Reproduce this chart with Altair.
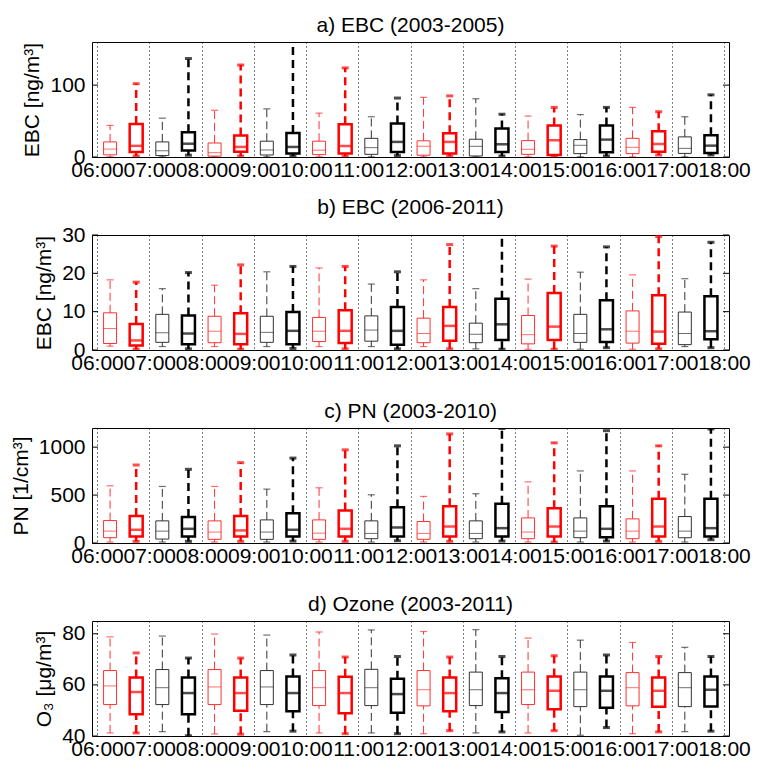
import altair as alt
import pandas as pd

HOURS = ["06:00", "07:00", "08:00", "09:00", "10:00", "11:00", "12:00",
         "13:00", "14:00", "15:00", "16:00", "17:00", "18:00"]

TITLES = ["a) EBC (2003-2005)", "b) EBC (2006-2011)", "c) PN (2003-2010)", "d) Ozone (2003-2011)"]
YTITLES = ["EBC [ng/m³]", "EBC [ng/m³]", "PN [1/cm³]", "O₃ [μg/m³]"]
YDOMAINS = [[0, 160], [0, 30], [0, 1200], [40, 85]]
YTICKS = [[0, 100], [0, 10, 20, 30], [0, 500, 1000], [40, 60, 80]]

# ---- a) EBC 2003-2005 ----
A_THIN_LO = [0.3, 0.2, 0.2, 0.2, 0.2, 0.2, 0.2, 0.2, 0.2, 0.2, 0.2, 0.2]
A_THIN_Q1 = [3, 2, 1.2, 2.8, 3.3, 3.7, 2.5, 1.4, 3.7, 4.7, 4.7, 5]
A_THIN_MED = [11, 8.7, 6, 9.8, 9.5, 13, 15, 14.9, 10.7, 16.3, 13.5, 12]
A_THIN_Q3 = [21, 21, 19.5, 22, 22, 26, 22.5, 24.7, 22.8, 24.2, 26, 28]
A_THIN_HI = [44, 54, 65, 67, 61, 56, 83, 81, 57, 59, 69, 56]
A_THICK_LO = [1.5, 2.5, 1.4, 1.4, 1, 1.9, 1.4, 1.4, 1, 1.4, 2.8, 2.8]
A_THICK_Q1 = [7, 9, 7.4, 5, 4.7, 7, 4.7, 7, 2.8, 6.5, 7.4, 5.6]
A_THICK_MED = [15.5, 18.5, 14, 14, 15.3, 21, 21, 17.7, 23.3, 24.2, 18.1, 15.8]
A_THICK_Q3 = [46, 34.5, 30, 33.5, 45.6, 46.5, 33, 39.5, 43.7, 43.7, 35.8, 30.2]
A_THICK_HI = [102, 137, 128, 170, 124, 82, 85, 59.5, 69, 69, 63, 86.5]

# ---- b) EBC 2006-2011 ----
B_THIN_LO = [1, 0.9, 0.9, 0.9, 0.9, 0.9, 0.9, 0.3, 0.2, 0.2, 0.2, 0.9]
B_THIN_Q1 = [1.7, 2, 1.9, 2, 2.2, 2.3, 1.9, 1.9, 1.6, 2, 1.8, 1.4]
B_THIN_MED = [5.6, 4.5, 4.9, 4.6, 4.9, 5.2, 4.3, 4.1, 4, 4.3, 4.9, 4.3]
B_THIN_Q3 = [9.7, 9.3, 8.8, 8.8, 8.5, 8.9, 8.3, 7, 9, 9.3, 10.2, 9.9]
B_THIN_HI = [18.3, 16, 16.9, 20.4, 21.4, 17.2, 18.3, 16, 18.5, 20.3, 19.6, 18.6]
B_THICK_LO = [0.2, 0.3, 0.2, 0.4, 0.3, 0.3, 0.3, 0.2, 0.2, 0.6, 0.3, 0.6]
B_THICK_Q1 = [1.2, 1.5, 1.5, 1.5, 1.8, 1.4, 2.4, 2.6, 2.6, 2.1, 1.6, 2.8]
B_THICK_MED = [2.5, 4.3, 4.2, 5, 5, 5, 6.3, 6.7, 6.1, 5.4, 4.8, 4.9]
B_THICK_Q3 = [6.8, 9, 9.6, 9.9, 10.4, 11.2, 11.2, 13.4, 14.9, 13, 14.3, 14]
B_THICK_HI = [17.7, 20.2, 22.2, 21.8, 21.8, 20.4, 27.5, 31, 27.1, 26.9, 29.6, 28.1]

# ---- c) PN 2003-2010 ----
C_THIN_LO = [10, 10, 10, 10, 10, 10, 10, 10, 10, 10, 10, 10]
C_THIN_Q1 = [55, 41, 38, 38, 38, 45, 38, 45, 45, 55, 45, 55]
C_THIN_MED = [124, 124, 114, 114, 103, 100, 100, 100, 114, 124, 124, 124]
C_THIN_Q3 = [234, 231, 231, 241, 241, 231, 224, 231, 262, 262, 252, 276]
C_THIN_HI = [597, 590, 590, 562, 576, 503, 486, 514, 638, 752, 752, 717]
C_THICK_LO = [17, 17, 17, 20, 17, 24, 17, 20, 10, 20, 17, 34]
C_THICK_Q1 = [69, 69, 69, 69, 69, 69, 69, 69, 69, 59, 69, 69]
C_THICK_MED = [138, 148, 131, 138, 148, 162, 172, 155, 172, 148, 172, 155]
C_THICK_Q3 = [283, 272, 283, 310, 338, 372, 383, 410, 362, 383, 462, 462]
C_THICK_HI = [814, 769, 838, 886, 972, 1014, 1138, 1195, 1045, 1172, 1014, 1190]

# ---- d) Ozone 2003-2011 ----
D_THIN_LO = [41.2, 41.7, 40.8, 41.7, 41.2, 41.2, 40.9, 41.2, 41.2, 40.3, 40.9, 41.7]
D_THIN_Q1 = [52.3, 52.3, 52.3, 52.3, 51.9, 51.9, 51.8, 51.9, 52.3, 51.5, 51.8, 51.5]
D_THIN_MED = [59.6, 58.9, 59.2, 59.2, 58.9, 58.9, 58.1, 58.1, 58.1, 58.1, 58.9, 58.9]
D_THIN_Q3 = [65.6, 66, 66, 65.6, 65.6, 66.1, 65.6, 65, 65, 65, 64.8, 64.8]
D_THIN_HI = [78.8, 79.1, 79.9, 79.5, 80.7, 81.5, 80.9, 81.6, 78.3, 77.5, 76.6, 74.7]
D_THICK_LO = [41.2, 40.1, 40.7, 41.9, 40.9, 40.9, 42.1, 41.6, 42.1, 43.3, 41.6, 41.9]
D_THICK_Q1 = [48.5, 48.5, 49.9, 49.7, 48.9, 49.1, 49.7, 49.4, 50.5, 51.1, 51.4, 51.5]
D_THICK_MED = [57.2, 56.8, 56.8, 56.8, 56.8, 56.4, 56.8, 56.8, 57.7, 57.7, 57.7, 58.1]
D_THICK_Q3 = [62.9, 62.9, 62.9, 63.3, 63.2, 62.4, 62.9, 62.6, 63.3, 63.3, 62.9, 63.3]
D_THICK_HI = [72.5, 70.5, 70.5, 71.7, 70.9, 71.1, 70.9, 71.1, 71.4, 71.7, 71.1, 71.1]

PANELS = [
    ((A_THIN_LO, A_THIN_Q1, A_THIN_MED, A_THIN_Q3, A_THIN_HI),
     (A_THICK_LO, A_THICK_Q1, A_THICK_MED, A_THICK_Q3, A_THICK_HI)),
    ((B_THIN_LO, B_THIN_Q1, B_THIN_MED, B_THIN_Q3, B_THIN_HI),
     (B_THICK_LO, B_THICK_Q1, B_THICK_MED, B_THICK_Q3, B_THICK_HI)),
    ((C_THIN_LO, C_THIN_Q1, C_THIN_MED, C_THIN_Q3, C_THIN_HI),
     (C_THICK_LO, C_THICK_Q1, C_THICK_MED, C_THICK_Q3, C_THICK_HI)),
    ((D_THIN_LO, D_THIN_Q1, D_THIN_MED, D_THIN_Q3, D_THIN_HI),
     (D_THICK_LO, D_THICK_Q1, D_THICK_MED, D_THICK_Q3, D_THICK_HI)),
]

W, H = 637, 115
FONT = "Liberation Sans"
FS = 21
STYLE = {
    "thin": dict(off=0.25, sw=1.0, cap=7, capw=1.2, dash=[8, 4], colors=("#ff3030", "#333333")),
    "thick": dict(off=0.75, sw=2.5, cap=7, capw=3.0, dash=[8, 5], colors=("#ff0000", "#000000")),
}
LABEL_EXPR = "[" + ",".join("'%s'" % h for h in HOURS) + "][datum.value]"


def make_panel(k):
    rows = []
    for kind, arrs in zip(("thin", "thick"), PANELS[k]):
        lo, q1, med, q3, hi = arrs
        st = STYLE[kind]
        for i in range(len(lo)):
            rows.append(dict(kind=kind, pos=i + st["off"], lo=lo[i], q1=q1[i],
                             med=med[i], q3=q3[i], hi=hi[i],
                             col=st["colors"][i % 2]))
    df = pd.DataFrame(rows)

    xscale = alt.Scale(domain=[0, 12], nice=False, zero=False)
    xaxis = alt.Axis(values=list(range(13)), labelExpr=LABEL_EXPR, grid=True,
                     gridDash=[1, 3], gridColor="black", gridOpacity=1, gridWidth=1,
                     ticks=False, domain=False, title=None, labelOverlap=False,
                     labelFlush=False, labelBound=False, labelPadding=2)
    yscale = alt.Scale(domain=YDOMAINS[k], nice=False, zero=False)
    yaxis = alt.Axis(values=YTICKS[k], ticks=False, domain=False, grid=False,
                     title=YTITLES[k], labelPadding=7, titlePadding=7, format="d",
                     labelOverlap=False, labelFlush=False)

    def X():
        return alt.X("pos:Q", scale=xscale, axis=xaxis)

    def Y(f):
        return alt.Y(f + ":Q", scale=yscale, axis=yaxis)

    color = alt.Color("col:N", scale=None, legend=None)
    layers = []
    for kind in ("thin", "thick"):
        st = STYLE[kind]
        base = alt.Chart(df).transform_filter(alt.datum.kind == kind)
        layers += [
            base.mark_rule(strokeDash=st["dash"], strokeWidth=st["sw"], clip=True).encode(
                x=X(), y=Y("q3"), y2="hi:Q", color=color),
            base.mark_rule(strokeDash=st["dash"], strokeWidth=st["sw"], clip=True).encode(
                x=X(), y=Y("lo"), y2="q1:Q", color=color),
            base.mark_tick(orient="horizontal", size=st["cap"], thickness=st["capw"], clip=True).encode(
                x=X(), y=Y("hi"), color=color),
            base.mark_tick(orient="horizontal", size=st["cap"], thickness=st["capw"], clip=True).encode(
                x=X(), y=Y("lo"), color=color),
            base.mark_bar(filled=False, size=13, strokeWidth=st["sw"], clip=True).encode(
                x=X(), y=Y("q1"), y2="q3:Q", color=color),
            base.mark_tick(orient="horizontal", size=13, thickness=st["sw"], clip=True).encode(
                x=X(), y=Y("med"), color=color),
        ]
    tdf = pd.DataFrame({"v": YTICKS[k]})
    tick_base = alt.Chart(tdf)
    layers += [
        tick_base.mark_rule(color="black", strokeWidth=1).encode(
            x=alt.value(0), x2=alt.value(6), y=Y("v")),
        tick_base.mark_rule(color="black", strokeWidth=1).encode(
            x=alt.value(W - 6), x2=alt.value(W), y=Y("v")),
    ]
    return alt.layer(*layers).properties(
        width=W, height=H, title=alt.TitleParams(TITLES[k]))


chart = alt.vconcat(*[make_panel(k) for k in range(4)], spacing=78, bounds="flush").properties(
    padding={"left": 9, "top": 14, "right": 3, "bottom": 0}
).configure_view(stroke="black", strokeWidth=1).configure_axis(
    labelFont=FONT, titleFont=FONT, labelFontSize=FS, titleFontSize=FS,
    titleFontWeight="normal", labelColor="black", titleColor="black"
).configure_title(font=FONT, fontSize=FS, fontWeight="normal", anchor="middle",
                  color="black", offset=6)

chart.save("out.html", embed_options={"renderer": "svg", "actions": False})
